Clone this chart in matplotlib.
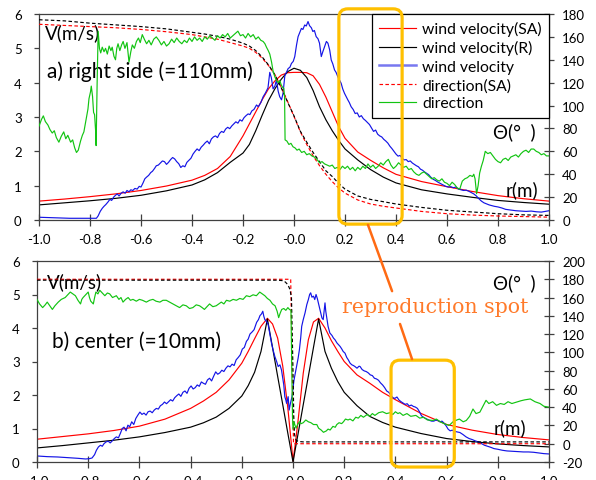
import numpy as np
import matplotlib
matplotlib.use("Agg")
import matplotlib.pyplot as plt
from matplotlib.patches import FancyBboxPatch, ConnectionPatch
from matplotlib.lines import Line2D

plt.rcParams['font.family'] = ['Lato', 'DejaVu Sans']
plt.rcParams['axes.unicode_minus'] = False

# ---------------- a) right side (=110mm) ----------------
# smooth model curves, r(m)
xs_a = [-1.0, -0.9, -0.8, -0.7, -0.6, -0.5, -0.4, -0.35, -0.3, -0.25, -0.2, -0.175, -0.15,
        -0.125, -0.1, -0.075, -0.05, -0.025, 0.0, 0.025, 0.05, 0.075, 0.1, 0.125, 0.15, 0.175,
        0.2, 0.25, 0.3, 0.35, 0.4, 0.5, 0.6, 0.7, 0.8, 0.9, 1.0]
vel_sa_a = [0.55, 0.61, 0.68, 0.76, 0.86, 0.99, 1.16, 1.3, 1.5, 1.85, 2.45, 2.8, 3.15,
            3.5, 3.82, 4.05, 4.22, 4.29, 4.3, 4.3, 4.29, 4.2, 3.95, 3.58, 3.15, 2.72,
            2.38, 1.98, 1.74, 1.52, 1.33, 1.12, 0.97, 0.83, 0.71, 0.62, 0.55]
vel_r_a = [0.44, 0.5, 0.56, 0.63, 0.72, 0.85, 1.02, 1.17, 1.38, 1.68, 1.95, 2.2, 2.6,
           3.05, 3.48, 3.82, 4.1, 4.32, 4.42, 4.36, 4.15, 3.77, 3.3, 2.92, 2.6, 2.32,
           2.07, 1.75, 1.47, 1.25, 1.08, 0.88, 0.76, 0.66, 0.57, 0.51, 0.46]
dir_sa_a = [171, 170, 169, 168, 166.5, 164.5, 162, 160, 158, 155, 152, 150, 146.5,
            141.5, 135, 127, 116, 103.5, 90.5, 77, 66, 56, 47.5, 40, 33.5, 28,
            23.5, 17.5, 14, 12, 10.5, 7.5, 5.5, 4.3, 3.5, 3, 2.5]
dir_r_a = [175, 174, 172, 170.5, 169, 167, 164, 162.5, 160.5, 158, 154.5, 152, 148,
           142.5, 135.5, 127, 115.5, 103, 91, 77.5, 68, 59, 51, 43, 38, 32,
           27, 21, 18, 16, 14, 11, 8.5, 7, 5.5, 4.5, 4]

# measured wind velocity (m/s)
meas_vel_a = [
    (-1.0, 0.08), (-0.96, 0.07), (-0.92, 0.06), (-0.88, 0.05), (-0.84, 0.05), (-0.8, 0.05),
    (-0.775, 0.05), (-0.768, 0.12), (-0.76, 0.25), (-0.752, 0.34), (-0.745, 0.4), (-0.738, 0.45),
    (-0.73, 0.52), (-0.722, 0.6), (-0.715, 0.57), (-0.708, 0.66), (-0.70, 0.72), (-0.693, 0.76),
    (-0.686, 0.7), (-0.678, 0.78), (-0.67, 0.82), (-0.662, 0.78), (-0.655, 0.86), (-0.647, 0.82),
    (-0.64, 0.88), (-0.632, 0.86), (-0.624, 0.92), (-0.615, 0.9), (-0.607, 0.98), (-0.60, 0.96),
    (-0.592, 1.08), (-0.585, 1.2), (-0.578, 1.25), (-0.57, 1.3), (-0.562, 1.38), (-0.555, 1.42),
    (-0.547, 1.5), (-0.54, 1.58), (-0.532, 1.6), (-0.524, 1.66), (-0.516, 1.72), (-0.508, 1.7),
    (-0.50, 1.62), (-0.492, 1.68), (-0.484, 1.76), (-0.476, 1.82), (-0.468, 1.78), (-0.46, 1.7),
    (-0.452, 1.64), (-0.444, 1.53), (-0.436, 1.58), (-0.428, 1.55), (-0.42, 1.68), (-0.412, 1.74),
    (-0.404, 1.8), (-0.396, 1.92), (-0.388, 2.0), (-0.38, 2.07), (-0.372, 2.02), (-0.364, 2.12),
    (-0.356, 2.18), (-0.348, 2.25), (-0.34, 2.3), (-0.332, 2.22), (-0.324, 2.36), (-0.316, 2.42),
    (-0.308, 2.45), (-0.30, 2.4), (-0.292, 2.52), (-0.284, 2.58), (-0.276, 2.55), (-0.268, 2.65),
    (-0.26, 2.7), (-0.252, 2.66), (-0.244, 2.74), (-0.236, 2.8), (-0.228, 2.86), (-0.22, 2.82),
    (-0.212, 2.92), (-0.204, 2.88), (-0.196, 2.98), (-0.188, 3.04), (-0.18, 3.09), (-0.173, 3.07),
    (-0.165, 3.18), (-0.157, 3.22), (-0.147, 3.35), (-0.14, 3.3), (-0.13, 3.42), (-0.121, 3.59),
    (-0.112, 3.7), (-0.102, 3.85), (-0.095, 4.3), (-0.089, 4.15), (-0.082, 3.82), (-0.075, 3.9),
    (-0.069, 4.07), (-0.062, 3.75), (-0.056, 3.59), (-0.049, 3.5), (-0.043, 3.69), (-0.036, 4.2),
    (-0.03, 4.3), (-0.023, 4.41), (-0.016, 4.45), (-0.01, 4.56), (-0.003, 4.62), (0.003, 4.76),
    (0.01, 5.1), (0.016, 5.34), (0.022, 5.45), (0.029, 5.58), (0.035, 5.55), (0.042, 5.68),
    (0.048, 5.65), (0.055, 5.78), (0.061, 5.66), (0.068, 5.6), (0.074, 5.49), (0.08, 5.52),
    (0.087, 5.34), (0.094, 5.28), (0.1, 5.15), (0.107, 4.76), (0.113, 4.9), (0.12, 5.05),
    (0.127, 5.2), (0.133, 5.15), (0.14, 4.95), (0.146, 4.66), (0.152, 4.55), (0.159, 4.37),
    (0.165, 4.3), (0.172, 4.17), (0.178, 4.08), (0.185, 3.98), (0.191, 3.82), (0.198, 3.69),
    (0.204, 3.6), (0.211, 3.5), (0.217, 3.42), (0.224, 3.3), (0.232, 3.22), (0.24, 3.1),
    (0.248, 3.12), (0.256, 3.0), (0.264, 3.04), (0.272, 2.95), (0.28, 2.9), (0.288, 2.84),
    (0.296, 2.78), (0.304, 2.68), (0.312, 2.58), (0.32, 2.62), (0.328, 2.5), (0.336, 2.45),
    (0.344, 2.42), (0.352, 2.35), (0.36, 2.3), (0.368, 2.24), (0.376, 2.15), (0.384, 2.08),
    (0.392, 2.0), (0.40, 1.92), (0.408, 1.86), (0.416, 1.88), (0.424, 1.8), (0.432, 1.75),
    (0.44, 1.76), (0.448, 1.7), (0.456, 1.72), (0.464, 1.66), (0.472, 1.62), (0.48, 1.58),
    (0.488, 1.55), (0.496, 1.48), (0.504, 1.45), (0.512, 1.4), (0.52, 1.36), (0.528, 1.32),
    (0.536, 1.25), (0.545, 1.19), (0.555, 1.15), (0.565, 1.1), (0.575, 1.06), (0.585, 1.02),
    (0.595, 0.98), (0.605, 0.96), (0.615, 0.97), (0.625, 0.94), (0.635, 0.96), (0.645, 0.9),
    (0.655, 0.88), (0.665, 0.86), (0.675, 0.87), (0.685, 0.84), (0.695, 0.8), (0.705, 0.76),
    (0.715, 0.7), (0.725, 0.62), (0.735, 0.55), (0.745, 0.5), (0.755, 0.47), (0.765, 0.44),
    (0.775, 0.42), (0.785, 0.4), (0.8, 0.38), (0.815, 0.35), (0.83, 0.31), (0.85, 0.29),
    (0.87, 0.27), (0.89, 0.26), (0.91, 0.25), (0.93, 0.26), (0.95, 0.24), (0.97, 0.23), (1.0, 0.27)]

# measured direction (deg)
meas_dir_a = [
    (-1.0, 82), (-0.99, 88), (-0.983, 91), (-0.975, 86), (-0.965, 83), (-0.957, 79), (-0.948, 76),
    (-0.94, 78), (-0.932, 72), (-0.922, 68), (-0.913, 73), (-0.903, 77), (-0.895, 71), (-0.887, 74),
    (-0.876, 68), (-0.868, 70), (-0.86, 63), (-0.853, 59), (-0.846, 61), (-0.837, 69), (-0.83, 74),
    (-0.824, 77), (-0.815, 88), (-0.808, 97), (-0.804, 106), (-0.798, 112), (-0.795, 117),
    (-0.79, 108), (-0.786, 94), (-0.782, 92), (-0.778, 78), (-0.776, 65), (-0.772, 120),
    (-0.768, 165), (-0.763, 150), (-0.758, 146), (-0.752, 151), (-0.745, 147), (-0.739, 150),
    (-0.732, 145), (-0.725, 152), (-0.718, 148), (-0.713, 151), (-0.706, 143), (-0.70, 140),
    (-0.695, 150), (-0.69, 154), (-0.683, 148), (-0.676, 153), (-0.67, 156), (-0.663, 150),
    (-0.655, 155), (-0.647, 138), (-0.64, 147), (-0.634, 153), (-0.626, 150), (-0.618, 156),
    (-0.61, 159), (-0.603, 155), (-0.595, 162), (-0.587, 158), (-0.578, 154), (-0.569, 157),
    (-0.56, 153), (-0.55, 158), (-0.54, 160), (-0.53, 157), (-0.52, 153), (-0.51, 156),
    (-0.50, 152), (-0.49, 154), (-0.48, 158), (-0.47, 155), (-0.46, 159), (-0.45, 156),
    (-0.44, 154), (-0.43, 157), (-0.42, 155), (-0.41, 159), (-0.40, 156), (-0.39, 160),
    (-0.38, 157), (-0.37, 159), (-0.36, 156), (-0.35, 160), (-0.34, 158), (-0.33, 161),
    (-0.32, 159), (-0.31, 157), (-0.30, 161), (-0.29, 159), (-0.28, 162), (-0.27, 160),
    (-0.26, 163), (-0.25, 159), (-0.24, 161), (-0.23, 163), (-0.22, 165), (-0.21, 161),
    (-0.20, 162), (-0.19, 159), (-0.18, 163), (-0.17, 160), (-0.16, 162), (-0.15, 158),
    (-0.14, 160), (-0.13, 157), (-0.121, 156), (-0.114, 154), (-0.108, 151), (-0.101, 148),
    (-0.095, 145), (-0.088, 138), (-0.082, 130), (-0.075, 125), (-0.069, 122), (-0.062, 120),
    (-0.056, 122), (-0.05, 118), (-0.045, 116), (-0.04, 115), (-0.037, 108), (-0.035, 70),
    (-0.028, 69), (-0.02, 66), (-0.012, 67), (-0.004, 64), (0.004, 63), (0.012, 61), (0.02, 62),
    (0.03, 59), (0.04, 60), (0.05, 57), (0.06, 58), (0.07, 56), (0.08, 55), (0.09, 53),
    (0.10, 50), (0.11, 51), (0.12, 49), (0.13, 48), (0.14, 47), (0.15, 48), (0.16, 45),
    (0.17, 46), (0.18, 44), (0.19, 47), (0.20, 45), (0.21, 47), (0.22, 44), (0.23, 46),
    (0.24, 43), (0.25, 46), (0.26, 44), (0.27, 47), (0.28, 45), (0.29, 49), (0.30, 46),
    (0.31, 48), (0.32, 45), (0.33, 47), (0.34, 50), (0.35, 48), (0.36, 51), (0.37, 53),
    (0.38, 48), (0.39, 45), (0.40, 47), (0.41, 50), (0.42, 48), (0.43, 46), (0.44, 47),
    (0.45, 44), (0.46, 45), (0.47, 42), (0.48, 40), (0.49, 39), (0.50, 41), (0.51, 42),
    (0.52, 40), (0.53, 38), (0.54, 36), (0.55, 37), (0.56, 35), (0.57, 34), (0.58, 36),
    (0.59, 33), (0.60, 32), (0.61, 30), (0.62, 33), (0.63, 31), (0.64, 28), (0.65, 27),
    (0.66, 34), (0.67, 36), (0.68, 37), (0.69, 39), (0.70, 38), (0.705, 40), (0.71, 36),
    (0.716, 23), (0.722, 30), (0.728, 41), (0.735, 47), (0.742, 52), (0.75, 60), (0.76, 58),
    (0.77, 59), (0.78, 56), (0.79, 53), (0.80, 51), (0.81, 50), (0.82, 53), (0.83, 54),
    (0.84, 52), (0.85, 55), (0.86, 56), (0.87, 57), (0.88, 55), (0.89, 58), (0.90, 60),
    (0.91, 61), (0.92, 59), (0.93, 62), (0.94, 62), (0.95, 60), (0.96, 59), (0.97, 57),
    (0.98, 58), (0.99, 56), (1.0, 56)]

# ---------------- b) center (=10mm) ----------------
xs_b = [-1.0, -0.9, -0.8, -0.7, -0.6, -0.5, -0.4, -0.35, -0.3, -0.25, -0.2, -0.175, -0.15,
        -0.125, -0.1, -0.08, -0.06, -0.04, -0.02, -0.01, 0.0, 0.01, 0.02, 0.04, 0.06, 0.08,
        0.1, 0.125, 0.15, 0.175, 0.2, 0.25, 0.3, 0.35, 0.4, 0.5, 0.6, 0.7, 0.8, 0.9, 1.0]
vel_sa_b = [0.68, 0.76, 0.84, 0.94, 1.07, 1.28, 1.6, 1.82, 2.08, 2.45, 2.95, 3.3, 3.68,
            4.05, 4.29, 4.12, 3.7, 2.86, 1.6, 0.82, 0.03, 0.6, 1.25, 2.65, 3.65, 4.18,
            4.29, 4.0, 3.62, 3.3, 3.0, 2.6, 2.35, 2.08, 1.86, 1.45, 1.12, 0.95, 0.82, 0.73, 0.66]
vel_r_b = [0.42, 0.49, 0.57, 0.65, 0.75, 0.88, 1.04, 1.17, 1.34, 1.6, 1.97, 2.28, 2.68,
           3.3, 4.27, 3.42, 2.56, 1.71, 0.85, 0.43, 0.0, 0.43, 0.85, 1.71, 2.56, 3.42,
           4.27, 3.3, 2.8, 2.4, 2.08, 1.68, 1.36, 1.18, 1.04, 0.85, 0.7, 0.61, 0.54, 0.49, 0.45]
x_dir_sa_b = [-1.0, -0.009, 0.002, 1.0]
dir_sa_b = [180, 180, 0, 0]
x_dir_r_b = [-1.0, -0.06, -0.04, -0.03, -0.02, -0.012, -0.006, -0.003, 0.0, 0.003, 0.006,
             0.012, 0.02, 0.04, 1.0]
dir_r_b = [179, 179, 178.5, 177, 174, 169, 160, 120, 80, 30, 10, 4, 2.5, 2, 2]

meas_vel_b = [
    (-1.0, 0.18), (-0.96, 0.16), (-0.92, 0.15), (-0.88, 0.13), (-0.84, 0.11), (-0.81, 0.09),
    (-0.795, 0.1), (-0.785, 0.12), (-0.775, 0.22), (-0.768, 0.35), (-0.76, 0.45), (-0.752, 0.5),
    (-0.745, 0.47), (-0.738, 0.55), (-0.73, 0.6), (-0.722, 0.62), (-0.714, 0.57), (-0.706, 0.63),
    (-0.698, 0.7), (-0.69, 0.75), (-0.682, 0.72), (-0.674, 0.86), (-0.667, 1.0), (-0.66, 1.04),
    (-0.652, 0.93), (-0.645, 1.1), (-0.638, 1.05), (-0.63, 1.2), (-0.622, 1.12), (-0.614, 1.3),
    (-0.606, 1.4), (-0.598, 1.49), (-0.59, 1.42), (-0.582, 1.46), (-0.574, 1.4), (-0.566, 1.5),
    (-0.558, 1.52), (-0.55, 1.47), (-0.542, 1.55), (-0.534, 1.6), (-0.526, 1.58), (-0.518, 1.68),
    (-0.51, 1.72), (-0.502, 1.79), (-0.494, 1.74), (-0.486, 1.8), (-0.478, 1.86), (-0.47, 1.82),
    (-0.462, 1.92), (-0.454, 1.98), (-0.446, 2.03), (-0.438, 1.96), (-0.43, 2.08), (-0.422, 2.12),
    (-0.414, 2.05), (-0.406, 2.2), (-0.398, 2.27), (-0.39, 2.18), (-0.382, 2.22), (-0.374, 2.3),
    (-0.366, 2.26), (-0.358, 2.39), (-0.35, 2.35), (-0.342, 2.32), (-0.334, 2.45), (-0.326, 2.5),
    (-0.318, 2.42), (-0.31, 2.56), (-0.302, 2.69), (-0.294, 2.62), (-0.286, 2.66), (-0.278, 2.74),
    (-0.27, 2.7), (-0.262, 2.8), (-0.254, 2.87), (-0.246, 2.84), (-0.238, 2.92), (-0.23, 2.88),
    (-0.222, 3.05), (-0.214, 3.12), (-0.206, 3.2), (-0.198, 3.37), (-0.19, 3.42), (-0.182, 3.6),
    (-0.175, 3.67), (-0.168, 3.82), (-0.16, 3.88), (-0.152, 3.95), (-0.142, 4.17), (-0.135, 4.25),
    (-0.129, 4.37), (-0.123, 4.42), (-0.118, 4.5), (-0.114, 4.35), (-0.11, 4.25), (-0.104, 4.2),
    (-0.097, 4.1), (-0.09, 3.8), (-0.084, 3.55), (-0.078, 3.35), (-0.071, 3.15), (-0.064, 3.0),
    (-0.058, 2.85), (-0.051, 2.9), (-0.045, 2.75), (-0.04, 2.5), (-0.036, 2.3), (-0.032, 1.95),
    (-0.028, 1.85), (-0.025, 1.75), (-0.019, 1.95), (-0.015, 1.55), (-0.01, 1.75), (-0.004, 1.95),
    (0.0, 2.2), (0.004, 2.45), (0.009, 2.65), (0.014, 2.85), (0.02, 3.1), (0.025, 3.35),
    (0.03, 3.7), (0.034, 4.05), (0.04, 4.25), (0.047, 4.45), (0.054, 4.7), (0.06, 4.85),
    (0.065, 5.0), (0.069, 5.05), (0.074, 4.92), (0.08, 4.95), (0.085, 4.85), (0.09, 5.0),
    (0.095, 4.88), (0.099, 4.75), (0.104, 4.6), (0.108, 4.45), (0.113, 4.3), (0.118, 4.25),
    (0.122, 4.55), (0.125, 4.75), (0.128, 4.5), (0.131, 4.35), (0.137, 4.05), (0.144, 3.85),
    (0.152, 3.78), (0.158, 3.7), (0.164, 3.65), (0.172, 3.55), (0.178, 3.5), (0.184, 3.45),
    (0.19, 3.38), (0.196, 3.3), (0.203, 3.25), (0.21, 3.12), (0.216, 3.05), (0.223, 2.95),
    (0.23, 2.9), (0.236, 2.88), (0.242, 2.85), (0.25, 2.8), (0.258, 2.86), (0.262, 2.85),
    (0.27, 2.76), (0.278, 2.72), (0.286, 2.7), (0.294, 2.66), (0.302, 2.6), (0.31, 2.58),
    (0.318, 2.5), (0.326, 2.48), (0.334, 2.44), (0.342, 2.36), (0.35, 2.3), (0.358, 2.22),
    (0.366, 2.12), (0.374, 2.08), (0.382, 2.0), (0.39, 1.92), (0.398, 1.9), (0.406, 1.94),
    (0.414, 1.85), (0.422, 1.8), (0.43, 1.76), (0.438, 1.72), (0.446, 1.74), (0.454, 1.67),
    (0.462, 1.7), (0.47, 1.66), (0.478, 1.64), (0.486, 1.6), (0.494, 1.5), (0.502, 1.38),
    (0.51, 1.33), (0.518, 1.3), (0.526, 1.27), (0.534, 1.24), (0.542, 1.22), (0.55, 1.22),
    (0.558, 1.25), (0.566, 1.24), (0.574, 1.2), (0.582, 1.22), (0.59, 1.16), (0.598, 1.08),
    (0.606, 0.98), (0.614, 0.93), (0.622, 0.95), (0.63, 0.92), (0.64, 0.9), (0.652, 0.88),
    (0.664, 0.82), (0.676, 0.75), (0.688, 0.7), (0.7, 0.67), (0.712, 0.63), (0.724, 0.6),
    (0.736, 0.55), (0.748, 0.5), (0.76, 0.47), (0.772, 0.44), (0.785, 0.4), (0.8, 0.38),
    (0.818, 0.35), (0.836, 0.33), (0.856, 0.32), (0.878, 0.31), (0.9, 0.3), (0.92, 0.3),
    (0.94, 0.29), (0.96, 0.27), (0.98, 0.25), (1.0, 0.24)]

meas_dir_b = [
    (-1.0, 158), (-0.99, 153), (-0.978, 149), (-0.968, 152), (-0.96, 155), (-0.95, 151),
    (-0.94, 147), (-0.93, 151), (-0.917, 155), (-0.905, 158), (-0.89, 160), (-0.88, 163),
    (-0.87, 166), (-0.86, 164), (-0.85, 162), (-0.84, 157), (-0.83, 153), (-0.825, 158),
    (-0.82, 160), (-0.81, 163), (-0.80, 166), (-0.795, 160), (-0.79, 156), (-0.78, 153),
    (-0.775, 160), (-0.77, 166), (-0.762, 164), (-0.755, 168), (-0.745, 165), (-0.735, 162),
    (-0.725, 165), (-0.716, 164), (-0.705, 160), (-0.69, 162), (-0.68, 158), (-0.672, 160),
    (-0.664, 155), (-0.654, 158), (-0.644, 160), (-0.635, 157), (-0.625, 158), (-0.612, 156),
    (-0.6, 158), (-0.588, 157), (-0.573, 155), (-0.56, 157), (-0.547, 158), (-0.535, 156),
    (-0.52, 155), (-0.508, 157), (-0.495, 157), (-0.482, 155), (-0.469, 153), (-0.456, 151),
    (-0.443, 149), (-0.43, 152), (-0.417, 151), (-0.404, 148), (-0.391, 149), (-0.378, 152),
    (-0.365, 151), (-0.355, 149), (-0.346, 147), (-0.336, 150), (-0.326, 153), (-0.313, 150),
    (-0.3, 151), (-0.29, 153), (-0.28, 155), (-0.27, 153), (-0.26, 157), (-0.247, 156),
    (-0.234, 158), (-0.221, 157), (-0.208, 159), (-0.195, 158), (-0.182, 162), (-0.169, 161),
    (-0.156, 163), (-0.143, 162), (-0.13, 166), (-0.12, 164), (-0.11, 162), (-0.1, 159),
    (-0.09, 157), (-0.08, 153), (-0.07, 151), (-0.062, 145), (-0.056, 138), (-0.05, 143),
    (-0.044, 147), (-0.036, 148), (-0.028, 146), (-0.02, 149), (-0.014, 147), (-0.008, 146),
    (-0.005, 90), (-0.002, 30), (0.0, 16), (0.004, 24), (0.008, 20), (0.012, 17), (0.018, 21),
    (0.025, 24), (0.032, 22), (0.04, 23), (0.05, 26), (0.06, 24), (0.07, 23), (0.08, 21),
    (0.093, 21), (0.1, 17), (0.11, 15), (0.119, 12.5), (0.13, 14), (0.137, 16), (0.145, 15),
    (0.156, 19), (0.165, 18), (0.171, 21), (0.18, 23), (0.19, 22), (0.197, 24), (0.205, 27),
    (0.215, 26), (0.223, 27), (0.234, 25), (0.245, 29), (0.255, 28), (0.265, 31), (0.275, 29),
    (0.29, 32), (0.3, 30), (0.31, 33), (0.32, 31), (0.335, 34), (0.35, 35), (0.365, 33),
    (0.38, 34), (0.39, 32), (0.4, 35), (0.41, 33), (0.417, 34), (0.43, 31), (0.445, 33),
    (0.46, 30), (0.48, 31), (0.495, 28), (0.51, 29), (0.525, 26), (0.547, 25.5), (0.56, 27),
    (0.575, 24), (0.59, 22), (0.61, 20), (0.625, 24), (0.64, 26), (0.65, 27), (0.665, 24),
    (0.677, 25.5), (0.69, 30), (0.703, 38), (0.715, 33), (0.73, 34.6), (0.742, 41),
    (0.754, 47.5), (0.765, 44), (0.78, 46), (0.795, 42), (0.81, 44), (0.825, 43), (0.84, 46),
    (0.855, 44), (0.875, 45.7), (0.89, 47), (0.905, 48), (0.927, 49), (0.945, 46), (0.965, 44),
    (0.98, 41), (1.0, 40)]

# examined region r(m) for each panel: x0, x1, y0, y1 (left axis units)
spot_a = (0.176, 0.424, -0.12, 6.15)
spot_b = (0.383, 0.63, -0.15, 3.04)

RED = '#FF0000'
BLUE = '#1414E6'
GREEN = '#12C412'
SPINE = '#404040'
DASH = (0, (3, 2))
LW = 0.85


def style_axes(ax, axr, rlim, rticks):
    ax.set_xlim(-1, 1)
    ax.set_ylim(0, 6)
    axr.set_ylim(*rlim)
    xt = np.round(np.arange(-1.0, 1.01, 0.2), 1)
    ax.set_xticks(xt)
    ax.set_xticklabels([f"{v:.1f}" for v in xt])
    ax.set_yticks(range(7))
    axr.set_yticks(rticks)
    for s in ax.spines.values():
        s.set_color(SPINE)
        s.set_linewidth(0.9)
    for s in axr.spines.values():
        s.set_visible(False)
    axr.spines['right'].set_visible(True)
    axr.spines['right'].set_color(SPINE)
    axr.spines['right'].set_linewidth(0.9)
    ax.spines['right'].set_visible(False)
    ax.tick_params(axis='x', direction='inout', length=8.5, width=0.9, color=SPINE,
                   labelsize=9.5, pad=5)
    ax.tick_params(axis='y', direction='out', length=3.5, width=0.9, color=SPINE,
                   labelsize=9.5, pad=9)
    axr.tick_params(axis='y', direction='inout', length=7, width=0.9, color=SPINE,
                    labelsize=9.5, pad=6)


fig = plt.figure(figsize=(5.96, 4.81), dpi=100)
W, H = 596, 481
ax1 = fig.add_axes([39 / W, 1 - 221 / H, 510 / W, 206 / H])
ax1r = ax1.twinx()
ax2 = fig.add_axes([37 / W, 1 - 463 / H, 512 / W, 201 / H])
ax2r = ax2.twinx()

LABEL_FS = 13.5
TITLE_FS = 15

# ---- panel a
l1, = ax1.plot(xs_a, vel_sa_a, color=RED, lw=LW)
l2, = ax1.plot(xs_a, vel_r_a, color='black', lw=LW)
mx, my = zip(*meas_vel_a)
ax1.plot(mx, my, color=BLUE, lw=LW)
l4, = ax1r.plot(xs_a, dir_sa_a, color=RED, lw=LW, ls=DASH)
ax1r.plot(xs_a, dir_r_a, color='black', lw=LW, ls=DASH)
dx, dy = zip(*meas_dir_a)
l5, = ax1r.plot(dx, dy, color=GREEN, lw=LW)
style_axes(ax1, ax1r, (0, 180), range(0, 181, 20))

l3 = Line2D([], [], color='#7878F0', lw=1.8)
leg = ax1r.legend([l1, l2, l3, l4, l5],
                  ['wind velocity(SA)', 'wind velocity(R)', 'wind velocity',
                   'direction(SA)', 'direction'],
                  loc='upper right', bbox_to_anchor=(1.0, 1.0), borderaxespad=0,
                  fontsize=11.3, handlelength=2.35, handletextpad=0.42, labelspacing=0.27,
                  borderpad=0.45, fancybox=False, framealpha=1, edgecolor='black')
leg.get_frame().set_linewidth(0.9)

ax1.text(0.012, 0.913, 'V(m/s)', transform=ax1.transAxes, fontsize=LABEL_FS, va='center')
ax1.text(0.016, 0.723, 'a) right side (=110mm)', transform=ax1.transAxes, fontsize=TITLE_FS,
         va='center')
ax1.text(0.89, 0.432, 'Θ(°  )', transform=ax1.transAxes, fontsize=LABEL_FS, va='center')
ax1.text(0.915, 0.15, 'r(m)', transform=ax1.transAxes, fontsize=LABEL_FS, va='center')

# ---- panel b
ax2.plot(xs_b, vel_sa_b, color=RED, lw=LW)
ax2.plot(xs_b, vel_r_b, color='black', lw=LW)
mx, my = zip(*meas_vel_b)
ax2.plot(mx, my, color=BLUE, lw=LW)
ax2r.plot(x_dir_sa_b, dir_sa_b, color=RED, lw=LW, ls=DASH)
ax2r.plot(x_dir_r_b, dir_r_b, color='black', lw=LW, ls=DASH)
dx, dy = zip(*meas_dir_b)
ax2r.plot(dx, dy, color=GREEN, lw=LW)
style_axes(ax2, ax2r, (-20, 200), range(-20, 201, 20))

ax2.text(0.0195, 0.90, 'V(m/s)', transform=ax2.transAxes, fontsize=LABEL_FS, va='center')
ax2.text(0.029, 0.602, 'b) center (=10mm)', transform=ax2.transAxes, fontsize=TITLE_FS,
         va='center')
ax2.text(0.891, 0.895, 'Θ(°  )', transform=ax2.transAxes, fontsize=LABEL_FS, va='center')
ax2.text(0.891, 0.174, 'r(m)', transform=ax2.transAxes, fontsize=LABEL_FS, va='center')


# ---- reproduction spot annotation
def spot_box(ax, spot):
    x0, x1, y0, y1 = spot
    p0 = ax.transData.transform((x0, y0)) / fig.dpi
    p1 = ax.transData.transform((x1, y1)) / fig.dpi
    box = FancyBboxPatch(p0, p1[0] - p0[0], p1[1] - p0[1],
                         boxstyle='round,pad=0,rounding_size=0.09',
                         transform=fig.dpi_scale_trans, fill=False,
                         ec='#FFC000', lw=2.3, zorder=10)
    fig.add_artist(box)


spot_box(ax1, spot_a)
spot_box(ax2, spot_b)

ORANGE = '#FF6A13'
fig.add_artist(ConnectionPatch(xyA=(0.29, -0.14), coordsA=ax1.transData,
                               xyB=(0.387, 5.1), coordsB=ax2.transData,
                               color=ORANGE, lw=1.8, zorder=11))
fig.add_artist(ConnectionPatch(xyA=(0.418, 4.12), coordsA=ax2.transData,
                               xyB=(0.465, 3.07), coordsB=ax2.transData,
                               color=ORANGE, lw=1.8, zorder=11))
ax2.text(0.556, 4.63, 'reproduction spot', fontsize=14.8, family='DejaVu Serif',
         color='#FF7A2A', ha='center', va='center', zorder=12)

fig.savefig('out.png', dpi=100)
